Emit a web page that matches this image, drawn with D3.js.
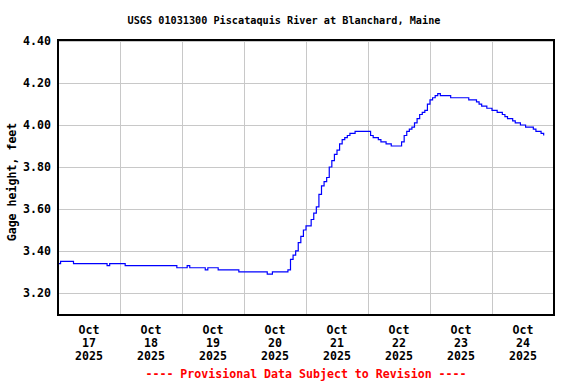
<!DOCTYPE html>
<html>
<head>
<meta charset="utf-8">
<script src="https://cdn.jsdelivr.net/npm/d3@7"></script>
<style>
  html, body { margin: 0; padding: 0; background: #fff; }
  svg { display: block; }
  text { font-family: "DejaVu Sans Mono", monospace; font-weight: bold; font-size: 11.6px; fill: #000; }
</style>
</head>
<body>
<svg id="chart" width="576" height="384"></svg>
<script>
// ---- Data (hourly gage height, feet, starting Oct 17 2025 00:00) ----
const title = "USGS 01031300 Piscataquis River at Blanchard, Maine";
const yLabel = "Gage height, feet";
const footer = "---- Provisional Data Subject to Revision ----";
const startTime = "2025-10-17T00:00:00Z";
const endTime = "2025-10-25T00:00:00Z";
const dayTicks = ["2025-10-17", "2025-10-18", "2025-10-19", "2025-10-20", "2025-10-21", "2025-10-22", "2025-10-23", "2025-10-24"];
const yTicks = [3.20, 3.40, 3.60, 3.80, 4.00, 4.20, 4.40];
const gageHeight = [
  // Oct 17
  3.34,3.35,3.35,3.35,3.35,3.35,3.34,3.34,3.34,3.34,3.34,3.34,3.34,3.34,3.34,3.34,3.34,3.34,3.34,3.33,3.34,3.34,3.34,3.34,
  // Oct 18
  3.34,3.34,3.33,3.33,3.33,3.33,3.33,3.33,3.33,3.33,3.33,3.33,3.33,3.33,3.33,3.33,3.33,3.33,3.33,3.33,3.33,3.33,3.32,3.32,
  // Oct 19
  3.32,3.32,3.33,3.32,3.32,3.32,3.32,3.32,3.32,3.31,3.32,3.32,3.32,3.32,3.31,3.31,3.31,3.31,3.31,3.31,3.31,3.31,3.30,3.30,
  // Oct 20
  3.30,3.30,3.30,3.30,3.30,3.30,3.30,3.30,3.30,3.29,3.29,3.30,3.30,3.30,3.30,3.30,3.30,3.31,3.36,3.38,3.40,3.44,3.47,3.50,
  // Oct 21
  3.52,3.52,3.55,3.58,3.61,3.67,3.71,3.73,3.75,3.80,3.83,3.86,3.88,3.91,3.93,3.94,3.95,3.96,3.96,3.97,3.97,3.97,3.97,3.97,
  // Oct 22
  3.97,3.95,3.94,3.94,3.93,3.92,3.92,3.91,3.91,3.90,3.90,3.90,3.90,3.92,3.95,3.97,3.98,3.99,4.01,4.03,4.05,4.06,4.07,4.10,
  // Oct 23
  4.12,4.13,4.14,4.15,4.14,4.14,4.14,4.14,4.13,4.13,4.13,4.13,4.13,4.13,4.13,4.12,4.12,4.12,4.11,4.10,4.09,4.09,4.08,4.08,
  // Oct 24
  4.07,4.07,4.06,4.06,4.05,4.04,4.03,4.03,4.02,4.01,4.01,4.00,4.00,3.99,3.99,3.99,3.98,3.97,3.97,3.96,3.95
];

// ---- Layout ----
const margin = { left: 58, right: 22, top: 40, bottom: 69 };
const W = 576, H = 384;
const plotW = W - margin.left - margin.right; // 496
const plotH = H - margin.top - margin.bottom; // 275

const svg = d3.select("#chart");

const t0 = new Date(startTime);
const data = gageHeight.map((v, i) => ({ t: new Date(t0.getTime() + i * 3600e3), v }));

const x = d3.scaleUtc()
  .domain([new Date(startTime), new Date(endTime)])
  .range([margin.left, margin.left + plotW]);

const y = d3.scaleLinear()
  .domain([3.095, 4.405])
  .range([margin.top + plotH, margin.top]);

// Grid: horizontal
svg.append("g")
  .selectAll("line")
  .data(yTicks)
  .join("line")
  .attr("x1", margin.left).attr("x2", margin.left + plotW)
  .attr("y1", d => Math.round(y(d)) + 0.5).attr("y2", d => Math.round(y(d)) + 0.5)
  .attr("stroke", "#c8c8c8").attr("stroke-width", 1)
  .attr("shape-rendering", "crispEdges");

// Grid: vertical at day boundaries
const dayDates = dayTicks.map(d => new Date(d + "T00:00:00Z"));
svg.append("g")
  .selectAll("line")
  .data(dayDates.slice(1))
  .join("line")
  .attr("x1", d => Math.round(x(d)) + 0.5).attr("x2", d => Math.round(x(d)) + 0.5)
  .attr("y1", margin.top).attr("y2", margin.top + plotH)
  .attr("stroke", "#c8c8c8").attr("stroke-width", 1)
  .attr("shape-rendering", "crispEdges");

// Data line
const line = d3.line()
  .x(d => x(d.t))
  .y(d => y(d.v))
  .curve(d3.curveStepAfter);

svg.append("path")
  .datum(data)
  .attr("d", line)
  .attr("fill", "none")
  .attr("stroke", "#0000ff")
  .attr("stroke-width", 1.2);

// Frame
svg.append("rect")
  .attr("x", margin.left).attr("y", margin.top)
  .attr("width", plotW).attr("height", plotH)
  .attr("fill", "none").attr("stroke", "#000").attr("stroke-width", 2)
  .attr("shape-rendering", "crispEdges");

// Y axis labels
svg.append("g")
  .selectAll("text")
  .data(yTicks)
  .join("text")
  .attr("x", 51)
  .attr("y", d => y(d))
  .attr("dy", "0.36em")
  .attr("text-anchor", "end")
  .text(d => d3.format(".2f")(d));

// X axis labels (centered at noon)
const fmtMon = d3.utcFormat("%b");
const fmtDay = d3.utcFormat("%d");
const fmtYear = d3.utcFormat("%Y");
const xl = svg.append("g")
  .selectAll("text")
  .data(dayDates)
  .join("text")
  .attr("text-anchor", "middle")
  .attr("x", d => x(new Date(d.getTime() + 12 * 3600e3)))
  .attr("y", 334);
xl.append("tspan").attr("x", d => x(new Date(d.getTime() + 12 * 3600e3))).attr("dy", 0).text(d => fmtMon(d));
xl.append("tspan").attr("x", d => x(new Date(d.getTime() + 12 * 3600e3))).attr("dy", 13).text(d => fmtDay(d));
xl.append("tspan").attr("x", d => x(new Date(d.getTime() + 12 * 3600e3))).attr("dy", 13).text(d => fmtYear(d));

// Title
svg.append("text")
  .attr("x", 284)
  .attr("y", 24)
  .attr("text-anchor", "middle")
  .style("font-size", "10.2px")
  .text(title);

// Y label
svg.append("text")
  .attr("transform", "translate(16,182) rotate(-90)")
  .attr("text-anchor", "middle")
  .text(yLabel);

// Footer
svg.append("text")
  .attr("x", margin.left + plotW / 2)
  .attr("y", 378)
  .attr("text-anchor", "middle")
  .style("fill", "#ff0000")
  .text(footer);
</script>
</body>
</html>
